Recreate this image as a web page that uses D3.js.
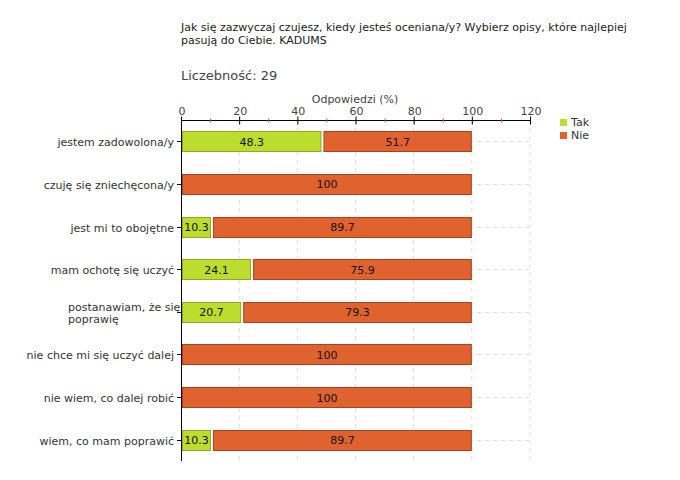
<!DOCTYPE html>
<html><head><meta charset="utf-8">
<script src="https://cdn.jsdelivr.net/npm/d3@7"></script>
<style>body{margin:0;background:#fff;} text{font-family:"DejaVu Sans",Verdana,sans-serif;}</style>
</head><body>
<svg id="c" width="680" height="480"></svg>
<script>
const categories = ["jestem zadowolona/y","czuję się zniechęcona/y","jest mi to obojętne","mam ochotę się uczyć","postanawiam, że się poprawię","nie chce mi się uczyć dalej","nie wiem, co dalej robić","wiem, co mam poprawić"];
const tak = [48.3, 0, 10.3, 24.1, 20.7, 0, 0, 10.3];
const nie = [51.7, 100, 89.7, 75.9, 79.3, 100, 100, 89.7];
const majorTicks = [0,20,40,60,80,100,120];
const minorTicks = [10,30,50,70,90,110];
const seriesNames = ["Tak","Nie"];
const colors = {Tak:"#bcdc2e", Nie:"#e0622e"};
const strokes = {Tak:"#8fa82a", Nie:"#a8421c"};

const svg = d3.select("#c");
const x = d3.scaleLinear().domain([0,120]).range([181,530]);
const y = d3.scaleBand().domain(categories).range([120,461]);

// title
const t = svg.append("text").attr("x",181).attr("y",31).attr("font-size",11).attr("fill","#222");
t.append("tspan").attr("x",181).attr("dy",0).text("Jak się zazwyczaj czujesz, kiedy jesteś oceniana/y? Wybierz opisy, które najlepiej");
t.append("tspan").attr("x",181).attr("dy",12.5).text("pasują do Ciebie. KADUMS");
svg.append("text").attr("x",181).attr("y",80).attr("font-size",13).attr("fill","#444").text("Liczebność: 29");

// gridlines vertical
svg.append("g").selectAll("line").data(majorTicks.slice(1)).join("line")
  .attr("x1",d=>x(d)).attr("x2",d=>x(d)).attr("y1",120).attr("y2",461)
  .attr("stroke","#ddd").attr("stroke-dasharray","4,4");
// horizontal gridlines at row centers
svg.append("g").selectAll("line").data(categories).join("line")
  .attr("x1",181).attr("x2",530).attr("y1",d=>Math.round(y(d)+y.bandwidth()/2)+0.5).attr("y2",d=>Math.round(y(d)+y.bandwidth()/2)+0.5)
  .attr("stroke","#ddd").attr("stroke-dasharray","4,4");

// bars
const bh = 20;
const rows = categories.map((c,i)=>({c, vals:[{s:"Tak",v:tak[i],x0:0},{s:"Nie",v:nie[i],x0:tak[i]}]}));
const g = svg.append("g");
rows.forEach(r=>{
  const cy = y(r.c)+y.bandwidth()/2;
  r.vals.filter(d=>d.v>0).forEach(d=>{
    const x0 = x(d.x0)+ (d.x0>0?2:1);
    const x1 = x(d.x0+d.v)-1;
    g.append("rect").attr("x",x0+0.5).attr("y",Math.round(cy-bh/2)+0.5)
      .attr("width",x1-x0).attr("height",bh)
      .attr("fill",colors[d.s]).attr("stroke",strokes[d.s]).attr("stroke-width",1);
    g.append("text").attr("x",(x0+x1)/2+0.5).attr("y",cy+4.5).attr("text-anchor","middle")
      .attr("font-size",11).attr("fill","#111").text(d.v);
  });
});

// top axis
const ax = svg.append("g").attr("transform","translate(0,120.5)");
ax.append("line").attr("x1",181).attr("x2",530).attr("stroke","#000");
ax.selectAll(".mj").data(majorTicks).join("line").attr("class","mj")
  .attr("x1",d=>x(d)+0.5).attr("x2",d=>x(d)+0.5).attr("y1",-4).attr("y2",4).attr("stroke","#000");
ax.selectAll(".mn").data(minorTicks).join("line").attr("class","mn")
  .attr("x1",d=>x(d)+0.5).attr("x2",d=>x(d)+0.5).attr("y1",-2).attr("y2",2).attr("stroke","#d44");
ax.selectAll("text").data(majorTicks).join("text")
  .attr("x",d=>x(d)+1).attr("y",-6).attr("text-anchor","middle").attr("font-size",11).attr("fill","#444").text(d=>d);
svg.append("text").attr("x",355).attr("y",103).attr("text-anchor","middle").attr("font-size",11).attr("fill","#444").text("Odpowiedzi (%)");

// left axis
svg.append("line").attr("x1",181.5).attr("x2",181.5).attr("y1",120).attr("y2",461).attr("stroke","#000");
const la = svg.append("g");
categories.forEach(c=>{
  const cy = Math.round(y(c)+y.bandwidth()/2)+0.5;
  la.append("line").attr("x1",177).attr("x2",181).attr("y1",cy).attr("y2",cy).attr("stroke","#000");
  if (c === "postanawiam, że się poprawię") {
    const tx = la.append("text").attr("font-size",11).attr("fill","#333");
    tx.append("tspan").attr("x",68).attr("y",cy-2).text("postanawiam, że się");
    tx.append("tspan").attr("x",68).attr("y",cy+10).text("poprawię");
  } else {
    la.append("text").attr("x",174).attr("y",cy+4).attr("text-anchor","end").attr("font-size",11).attr("fill","#333").text(c);
  }
});

// legend
const lg = svg.append("g");
seriesNames.forEach((s,i)=>{
  lg.append("rect").attr("x",560).attr("y",119+i*13).attr("width",7).attr("height",7).attr("fill",colors[s]);
  lg.append("text").attr("x",571).attr("y",126+i*13).attr("font-size",11).attr("fill","#333").text(s);
});
</script>
</body></html>
